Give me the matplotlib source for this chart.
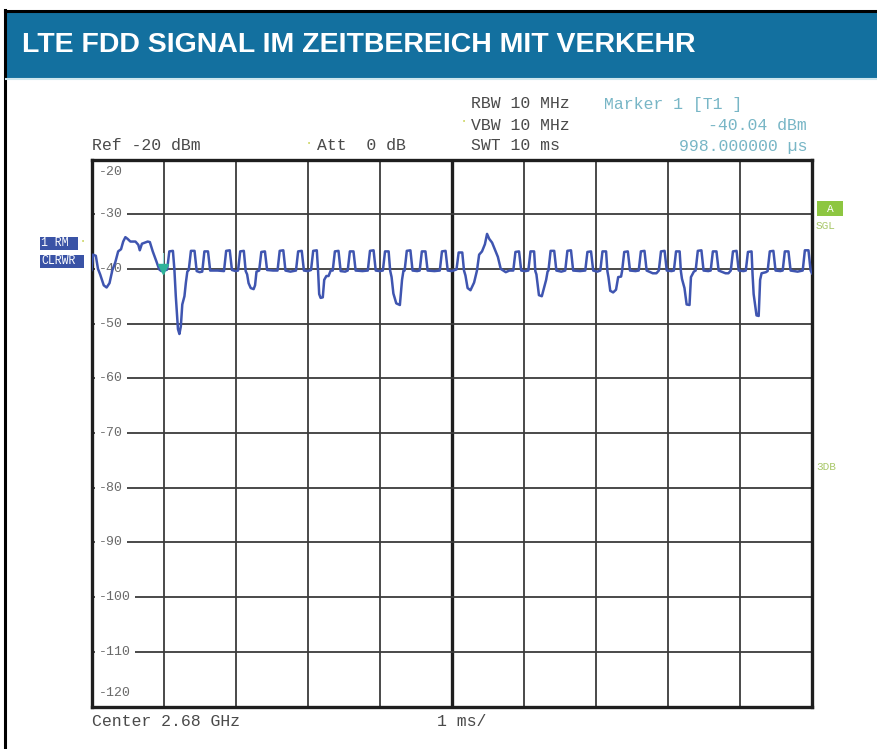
import matplotlib
matplotlib.use('Agg')
import matplotlib.pyplot as plt
from matplotlib.patches import Rectangle
from matplotlib.lines import Line2D

# ---------------- data ----------------
title = "LTE FDD SIGNAL IM ZEITBEREICH MIT VERKEHR"
x_range_ms = [0, 10]
y_range_dbm = [-120, -20]
y_tick_values = [-20, -30, -40, -50, -60, -70, -80, -90, -100, -110, -120]

trace_t_ms = [
    0.00, 0.02, 0.06, 0.09, 0.12, 0.17, 0.21, 0.25, 0.29, 0.33, 0.37, 0.41, 0.44, 0.47, 0.50,
    0.54, 0.61, 0.65, 0.67, 0.70, 0.78, 0.81, 0.85, 0.90, 0.94, 0.97, 1.00, 1.04,
    1.05, 1.08, 1.13, 1.15, 1.17, 1.20, 1.22, 1.24, 1.26, 1.29, 1.31, 1.33, 1.35,
    1.38, 1.43, 1.46, 1.50, 1.537,
    1.567, 1.617, 1.647, 1.75, 1.839,
    1.869, 1.919, 1.949, 2.00, 2.034,
    2.064, 2.114, 2.14, 2.16, 2.18, 2.21, 2.25, 2.27, 2.29, 2.327,
    2.357, 2.407, 2.437, 2.52, 2.582,
    2.612, 2.662, 2.692, 2.76, 2.838,
    2.868, 2.918, 2.948, 3.00, 3.047,
    3.077, 3.127, 3.145, 3.16, 3.18, 3.21, 3.23, 3.26, 3.29, 3.32, 3.348,
    3.378, 3.428, 3.458, 3.52, 3.556,
    3.586, 3.636, 3.666, 3.76, 3.835,
    3.865, 3.915, 3.945, 4.00, 4.044,
    4.074, 4.124, 4.145, 4.165, 4.19, 4.23, 4.28, 4.31, 4.33, 4.346,
    4.376, 4.426, 4.456, 4.52, 4.555,
    4.585, 4.635, 4.665, 4.76, 4.834,
    4.864, 4.914, 4.944, 5.00, 5.066,
    5.096, 5.146, 5.17, 5.19, 5.22, 5.26, 5.31, 5.35, 5.38, 5.42, 5.46, 5.49, 5.52, 5.56,
    5.60, 5.64, 5.68, 5.75, 5.80, 5.854,
    5.884, 5.934, 5.964, 6.02, 6.063,
    6.093, 6.143, 6.16, 6.175, 6.21, 6.25, 6.28, 6.31, 6.33, 6.342,
    6.372, 6.422, 6.452, 6.52, 6.575,
    6.605, 6.655, 6.685, 6.78, 6.853,
    6.883, 6.933, 6.963, 7.02, 7.062,
    7.092, 7.142, 7.16, 7.175, 7.20, 7.24, 7.28, 7.31, 7.35, 7.364,
    7.394, 7.444, 7.474, 7.55, 7.595,
    7.625, 7.675, 7.705, 7.79, 7.84, 7.874,
    7.904, 7.954, 7.984, 8.05, 8.083,
    8.113, 8.163, 8.18, 8.195, 8.23, 8.26, 8.30, 8.32, 8.36, 8.385,
    8.415, 8.465, 8.495, 8.56, 8.594,
    8.624, 8.674, 8.704, 8.80, 8.84, 8.873,
    8.903, 8.953, 8.983, 9.05, 9.081,
    9.111, 9.161, 9.175, 9.19, 9.23, 9.26, 9.28, 9.30, 9.36, 9.384,
    9.414, 9.464, 9.494, 9.56, 9.593,
    9.623, 9.673, 9.703, 9.80, 9.871,
    9.901, 9.951, 9.981, 10.00,
]

trace_dbm = [
    -40.2, -37.4, -37.6, -40.0, -41.0, -43.0, -43.4, -42.6, -40.2, -38.8, -36.8, -36.4, -35.0, -34.2, -34.5,
    -35.0, -35.0, -35.6, -36.6, -35.4, -35.0, -35.1, -36.8, -38.6, -40.1, -40.4, -40.0, -40.2,
    -40.1, -36.8, -36.7, -40.0, -45.0, -51.0, -51.9, -50.5, -46.5, -45.0, -42.5, -40.5, -40.2,
    -36.7, -36.7, -40.4, -40.6, -40.5,
    -36.8, -36.8, -40.3, -40.3, -40.4,
    -36.7, -36.6, -40.2, -40.4, -40.3,
    -36.8, -36.7, -40.4, -41.0, -42.6, -43.5, -43.7, -43.0, -40.5, -40.3,
    -36.9, -36.8, -40.2, -40.3, -40.3,
    -36.7, -36.6, -40.3, -40.5, -40.3,
    -36.8, -36.7, -40.3, -40.4, -40.2,
    -36.7, -36.6, -40.4, -44.6, -45.3, -45.2, -42.0, -41.3, -41.3, -40.3, -40.3,
    -36.8, -36.7, -40.4, -40.5, -40.3,
    -36.8, -36.8, -40.3, -40.4, -40.3,
    -36.7, -36.6, -40.3, -40.4, -40.3,
    -36.8, -36.8, -40.3, -41.5, -44.5, -46.3, -46.6, -42.0, -40.3, -40.3,
    -36.7, -36.6, -40.3, -40.4, -40.3,
    -36.8, -36.8, -40.3, -40.4, -40.3,
    -36.8, -36.7, -40.3, -40.4, -40.1,
    -37.0, -37.0, -40.3, -41.2, -43.5, -43.9, -42.5, -40.3, -37.4, -36.8, -35.5, -33.6, -34.5, -35.2,
    -36.5, -37.8, -40.0, -40.6, -40.3, -40.3,
    -36.9, -36.8, -40.3, -40.4, -40.3,
    -36.8, -36.8, -40.4, -41.0, -44.8, -45.0, -43.5, -42.0, -40.5, -40.3,
    -36.7, -36.7, -40.3, -40.5, -40.3,
    -36.7, -36.6, -40.3, -40.4, -40.3,
    -36.9, -36.8, -40.3, -40.5, -40.3,
    -36.8, -36.8, -40.4, -41.5, -44.0, -44.3, -43.8, -41.5, -41.4, -40.4,
    -36.9, -36.8, -40.3, -40.4, -40.3,
    -36.8, -36.7, -40.3, -40.8, -40.8, -40.3,
    -36.8, -36.7, -40.3, -40.4, -40.3,
    -36.8, -36.8, -40.4, -41.8, -43.5, -46.5, -46.6, -41.5, -40.5, -40.3,
    -36.7, -36.6, -40.3, -40.4, -40.3,
    -36.8, -36.8, -40.3, -40.8, -40.8, -40.3,
    -36.8, -36.7, -40.3, -40.4, -40.3,
    -36.9, -36.8, -41.0, -44.6, -48.5, -48.6, -42.0, -40.8, -40.6, -40.4,
    -36.8, -36.7, -40.3, -40.4, -40.3,
    -36.8, -36.8, -40.3, -40.5, -40.3,
    -36.6, -36.6, -40.3, -40.8,
]

marker_t_ms = 0.998
marker_dbm = -40.04

header_left = ["Ref -20 dBm", "Att  0 dB"]
header_mid = ["RBW 10 MHz", "VBW 10 MHz", "SWT 10 ms"]
marker_lines = ["Marker 1 [T1 ]", "-40.04 dBm", "998.000000 \u00b5s"]
footer_left = "Center 2.68 GHz"
footer_mid = "1 ms/"
left_boxes = ["1 RM", "CLRWR"]
right_box = "A"
right_labels = ["SGL", "3DB"]

# ---------------- figure ----------------
W, H = 877, 749
fig = plt.figure(figsize=(W / 100, H / 100), dpi=100)
fig.patch.set_facecolor('white')


def fx(x):
    return x / W


def fy(y):
    return 1 - y / H


MONO = ['Liberation Mono', 'DejaVu Sans Mono']
TXT = '#4a4a4a'
TEAL = '#78b6c6'

# outer frame lines
fig.add_artist(Line2D([fx(5), fx(5)], [fy(10), fy(749)], color='black', lw=2.2, transform=fig.transFigure))
fig.add_artist(Line2D([fx(5), fx(877)], [fy(10.5), fy(10.5)], color='black', lw=2.2, transform=fig.transFigure))
# title bar
fig.add_artist(Rectangle((fx(6), fy(78)), fx(877) - fx(6), fy(12) - fy(78),
                         facecolor='#13709f', edgecolor='none', transform=fig.transFigure))
fig.add_artist(Line2D([fx(6), fx(877)], [fy(79), fy(79)], color='#cfe7ee', lw=1.5, transform=fig.transFigure))
fig.text(fx(22), fy(45), title, color='white', fontsize=20.5, fontweight='bold',
         family=['Liberation Sans Narrow', 'Liberation Sans', 'DejaVu Sans'], va='center', ha='left')

# header texts
fs_h = 11.9
fig.text(fx(92), fy(146), header_left[0], family=MONO, fontsize=fs_h, color=TXT, va='center')
fig.text(fx(317), fy(146), header_left[1], family=MONO, fontsize=fs_h, color=TXT, va='center')
fig.text(fx(307), fy(143), "\u2022", family=MONO, fontsize=5, color='#c9d35a', va='center')
for i, s in enumerate(header_mid):
    fig.text(fx(471), fy(104 + 21 * i), s, family=MONO, fontsize=fs_h, color=TXT, va='center')
fig.text(fx(462), fy(122), "\u2022", family=MONO, fontsize=5, color='#c9d35a', va='center')
fig.text(fx(604), fy(104), marker_lines[0], family=MONO, fontsize=fs_h, color=TEAL, va='center')
fig.text(fx(807), fy(125), marker_lines[1], family=MONO, fontsize=fs_h, color=TEAL, va='center', ha='right')
fig.text(fx(807), fy(146), marker_lines[2], family=MONO, fontsize=fs_h, color=TEAL, va='center', ha='right')

# footer texts
fig.text(fx(92), fy(721), footer_left, family=MONO, fontsize=fs_h, color=TXT, va='center')
fig.text(fx(437), fy(721), footer_mid, family=MONO, fontsize=fs_h, color=TXT, va='center')

# left boxes
BOXC = '#3a53a6'
fig.add_artist(Rectangle((fx(40), fy(250)), fx(78) - fx(40), fy(237) - fy(250),
                         facecolor=BOXC, edgecolor='none', transform=fig.transFigure))
fig.add_artist(Rectangle((fx(40), fy(268)), fx(84) - fx(40), fy(255) - fy(268),
                         facecolor=BOXC, edgecolor='none', transform=fig.transFigure))
fig.text(fx(41), fy(243.5), left_boxes[0], family=MONO, fontsize=8.3, color='white', va='center')
fig.text(fx(41), fy(261.5), left_boxes[1], family=MONO, fontsize=8.3, color='white', va='center')
fig.text(fx(81), fy(241), "\u2022", family=MONO, fontsize=5, color='#c9d35a', va='center')

# right labels
fig.add_artist(Rectangle((fx(817), fy(216)), fx(843) - fx(817), fy(201) - fy(216),
                         facecolor='#8dc641', edgecolor='none', transform=fig.transFigure))
fig.text(fx(830), fy(208.5), right_box, family=MONO, fontsize=8, color='white', va='center', ha='center')
fig.text(fx(816), fy(226), right_labels[0], family=MONO, fontsize=8, color='#a9c86a', va='center')
fig.text(fx(816), fy(467), right_labels[1], family=MONO, fontsize=8, color='#a9c86a', va='center')

# ---------------- axes ----------------
L, R, T, B = 91.5, 812, 159.5, 706.5
ax = fig.add_axes([fx(L), fy(B), (R - L) / W, (B - T) / H])
ax.set_xlim(*x_range_ms)
ax.set_ylim(*y_range_dbm)
ax.set_xticks([])
ax.set_yticks([])
for sp in ax.spines.values():
    sp.set_linewidth(2.4)
    sp.set_color('#1e1e1e')

GRID = '#3c3c3c'
for i in range(1, 10):
    ax.axvline(i, color=GRID if i != 5 else '#1e1e1e', lw=1.3 if i != 5 else 2.4, zorder=1)
for v in y_tick_values[1:-1]:
    ax.axhline(v, color=GRID, lw=1.3, zorder=1)

for v in y_tick_values:
    if v == y_tick_values[0]:
        yy = v - 2.3
    elif v == y_tick_values[-1]:
        yy = v + 2.4
    else:
        yy = v
    ax.text(0.1, yy, f"{v}", family=MONO, fontsize=9.5, color='#6a6a6a', va='center', ha='left',
            zorder=2, bbox=dict(boxstyle='square,pad=0.3', facecolor='white', edgecolor='none'))

ax.plot(trace_t_ms, trace_dbm, color='#3f55b0', lw=1.8, zorder=3, solid_joinstyle='round')
ax.plot([marker_t_ms, marker_t_ms], [marker_dbm + 3.0, marker_dbm + 1.0], color='#8fd6d0', lw=0.8, zorder=4)
ax.plot([marker_t_ms], [marker_dbm], marker='v', color='#2fb39a', ms=7, zorder=5, linestyle='none')

fig.savefig('out.png', dpi=100, facecolor='white')
